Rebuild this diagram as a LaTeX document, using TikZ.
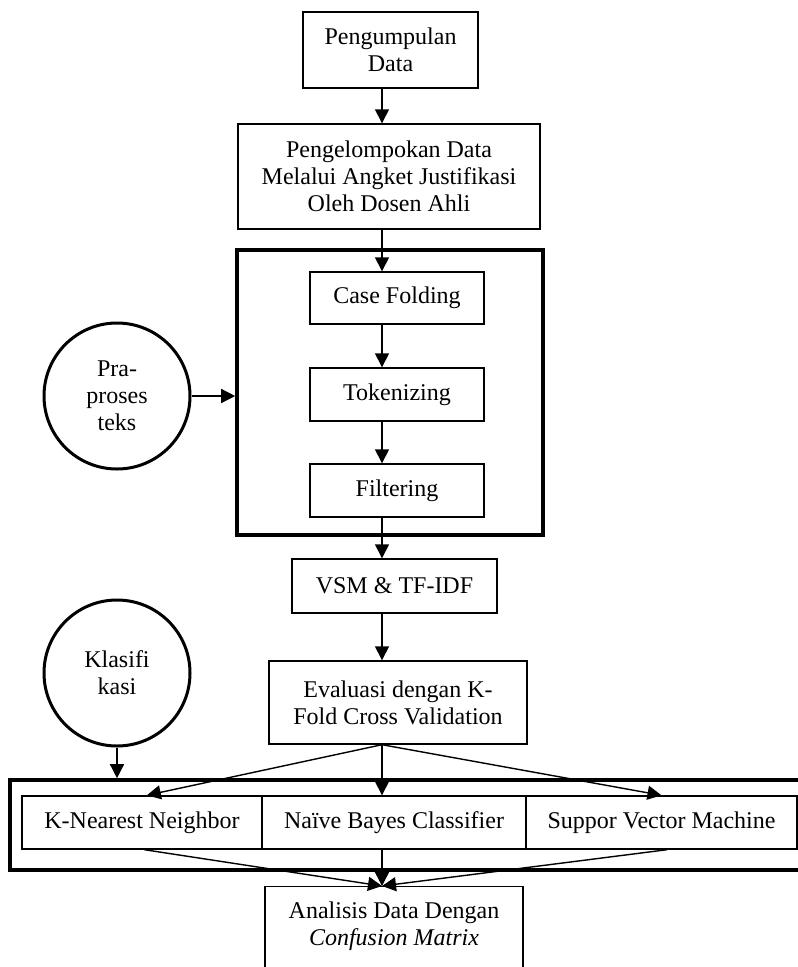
\documentclass[tikz,border=0pt]{standalone}
\usepackage{fontspec}
\setmainfont{Liberation Serif}
\usetikzlibrary{arrows.meta,calc}
\tikzset{
  box/.style={draw, line width=1.4pt, rectangle, inner sep=0pt, align=center,
    font=\fontsize{24}{27}\selectfont},
  bigbox/.style={draw, line width=3.6pt},
  circ/.style={draw, line width=3pt, circle, minimum size=146pt, inner sep=0pt,
    align=center, font=\fontsize{24}{27}\selectfont},
  arr/.style={line width=1.4pt, -{Triangle[length=14pt,width=14pt]}},
}
\begin{document}
\begin{tikzpicture}[x=1pt,y=-1pt]
\clip (0,0) rectangle (798,967);
\fill[white] (0,0) rectangle (798,967);
\coordinate (ax) at (382,0);
% top boxes
\node[box, minimum width=175pt, minimum height=76pt] (n1) at (390.5,50) {Pengumpulan\\Data};
\node[box, minimum width=302pt, minimum height=105pt] (n2) at (389,176.5)
  {Pengelompokan Data\\Melalui Angket Justifikasi\\Oleh Dosen Ahli};
% preprocessing group
\node[bigbox, minimum width=306pt, minimum height=285pt, inner sep=0pt] (g1) at (390,392.5) {};
\node[box, minimum width=174pt, minimum height=52pt] (cf) at (397,298) {Case Folding};
\node[box, minimum width=174pt, minimum height=53pt] (tok) at (397,394.5) {Tokenizing};
\node[box, minimum width=174pt, minimum height=53pt] (fil) at (397,490.5) {Filtering};
\node[circ] (pra) at (117,396) {Pra-\\proses\\teks};
% later steps
\node[box, minimum width=205pt, minimum height=54pt] (vsm) at (394.5,586) {VSM \& TF-IDF};
\node[box, minimum width=258pt, minimum height=83pt] (ev) at (398,702.5)
  {Evaluasi dengan K-\\Fold Cross Validation};
\node[circ] (kla) at (117,673) {Klasifi\\kasi};
% classifier group
\node[bigbox, minimum width=800pt, minimum height=90pt, inner sep=0pt] (g2) at (410,825) {};
\node[box, minimum width=240pt, minimum height=53pt] (knn) at (142,822.5) {K-Nearest Neighbor};
\node[box, minimum width=264pt, minimum height=53pt] (nb) at (394,822.5) {Naïve Bayes Classifier};
\node[box, minimum width=271pt, minimum height=53pt] (svm) at (661.5,822.5) {Suppor Vector Machine};
% analysis
\node[box, minimum width=258pt, minimum height=110pt, anchor=north] (an) at (394,886) {};
\node[font=\fontsize{24}{27}\selectfont, align=center] (antext) at (394,926)
  {Analisis Data Dengan\\\textit{Confusion Matrix}};
% connectors
\draw[arr] (n1.south -| ax) -- (n2.north -| ax);
\draw[arr] (n2.south -| ax) -- (cf.north -| ax);
\draw[arr] (cf.south -| ax) -- (tok.north -| ax);
\draw[arr] (tok.south -| ax) -- (fil.north -| ax);
\draw[arr] (fil.south -| ax) -- (vsm.north -| ax);
\draw[arr] (vsm.south -| ax) -- (ev.north -| ax);
\draw[arr] (pra.east) -- (g1.west |- pra.east);
\draw[arr] (kla.south) -- (kla.south |- g2.north);
\coordinate (evb) at (ev.south -| ax);
\coordinate (ant) at (an.north -| ax);
\draw[arr] (evb) -- ($(knn.north west)!0.52!(knn.north east)$);
\draw[arr] (evb) -- (nb.north -| ax);
\draw[arr] (evb) -- ($(svm.north west)!0.50!(svm.north east)$);
\draw[arr] ($(knn.south west)!0.51!(knn.south east)$) -- (ant);
\draw[arr] (nb.south -| ax) -- (ant);
\draw[arr] ($(svm.south west)!0.52!(svm.south east)$) -- (ant);
\end{tikzpicture}
\end{document}
